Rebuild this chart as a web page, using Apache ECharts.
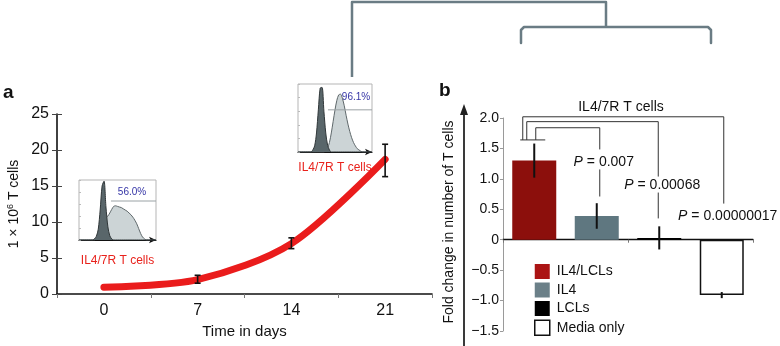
<!DOCTYPE html>
<html>
<head>
<meta charset="utf-8">
<script src="https://cdn.jsdelivr.net/npm/echarts@6/dist/echarts.min.js"></script>
<style>
  html, body { margin: 0; padding: 0; background: #fff; }
  #chart { width: 780px; height: 346px; }
</style>
</head>
<body>
<div id="chart"></div>
<script>
// ---- Panel a: T cell expansion over time ----
const days = ['0', '7', '14', '21'];
const cellCounts = [0.95, 2.0, 7.0, 18.7];
const cellLow = [0.95, 1.5, 6.3, 16.3];
const cellHigh = [0.95, 2.6, 7.8, 20.8];

// Flow histograms (day 0 and day 21), 41 bins each, percent of peak
const hist1Neg = [0,0,0,0,0,0,0,0,2,6,18,50,90,98,55,22,7,2,0,0,0,0,0,0,0,0,0,0,0,0,0,0,0,0,0,0,0,0,0,0,0];
const hist1Pos = [0,0,0,0,0,0,0,0,0,3,10,20,28,33,37,40,45,51,56,57,56,55,54,52,50,48,45,42,38,33,27,19,11,5,2,0,0,0,0,0,0];
const hist2Neg = [0,0,0,0,0,0,0,0,3,9,28,62,94,95,60,28,10,3,0,0,0,0,0,0,0,0,0,0,0,0,0,0,0,0,0,0,0,0,0,0,0];
const hist2Pos = [0,0,0,0,0,0,0,0,0,0,0,0,0,0,0,2,6,14,28,45,62,76,84,85,79,68,54,41,30,21,14,9,5,3,1,0,0,0,0,0,0];
const hist1Gate = { from: 16.6, level: 65, text: '56.0%' };
const hist2Gate = { from: 16.2, level: 62, text: '96.1%' };

// ---- Panel b: fold change by culture condition ----
const groups = ['IL4/LCLs', 'IL4', 'LCLs', 'Media only'];
const foldChange = [1.3, 0.39, 0.03, -0.91];
const foldErr = [0.28, 0.21, 0.19, 0.05];
const compareTargets = [1, 2, 3];
const pValues = ['0.007', '0.00068', '0.00000017'];

const FONT = "'Liberation Sans', Arial, Helvetica, sans-serif";
const barColors = ['#8c0f0c', '#5f7780', '#000000', '#ffffff'];
const legendColors = ['#ab1414', '#6b8088', '#000000', '#ffffff'];

const chart = echarts.init(document.getElementById('chart'), null, { renderer: 'canvas' });

const binIdx = hist1Neg.map((_, i) => i);
const toPairs = arr => arr.map((v, i) => [binIdx[i], v]);

function histSeries(xi, yi, neg, pos, gate) {
  return [
    {
      type: 'line', xAxisIndex: xi, yAxisIndex: yi, data: toPairs(pos),
      smooth: 0.3, symbol: 'none', silent: true, z: 2,
      lineStyle: { color: '#5f686b', width: 1 },
      areaStyle: { color: '#ccd4d6', opacity: 1 }
    },
    {
      type: 'line', xAxisIndex: xi, yAxisIndex: yi, data: toPairs(neg),
      smooth: 0.3, symbol: 'none', silent: true, z: 3,
      lineStyle: { color: '#2f3638', width: 1 },
      areaStyle: { color: '#59666a', opacity: 1 }
    },
    {
      type: 'line', xAxisIndex: xi, yAxisIndex: yi,
      data: [[gate.from, gate.level], [40, gate.level]],
      symbol: 'none', silent: true, z: 4,
      lineStyle: { color: '#9aa2a5', width: 1 }
    }
  ];
}

const bracketStyle = { stroke: '#333', lineWidth: 1, fill: null };

const option = {
  animation: false,
  backgroundColor: '#ffffff',
  textStyle: { fontFamily: FONT },
  grid: [
    { left: 57, top: 114, width: 375, height: 180 },
    { left: 503, top: 118, width: 250, height: 213 },
    { left: 79, top: 180, width: 77, height: 60, show: true, borderColor: '#b5b5b5', borderWidth: 1 },
    { left: 298, top: 84, width: 74, height: 68, show: true, borderColor: '#b5b5b5', borderWidth: 1 }
  ],
  xAxis: [
    {
      gridIndex: 0, type: 'category', data: days, boundaryGap: true,
      axisLine: { lineStyle: { color: '#111', width: 1.6 } },
      axisTick: { show: true, length: 4, lineStyle: { color: '#777' } },
      axisLabel: { color: '#111', fontSize: 16, margin: 9, fontFamily: FONT },
      name: 'Time in days', nameLocation: 'middle', nameGap: 28,
      nameTextStyle: { color: '#111', fontSize: 15, fontFamily: FONT }
    },
    {
      gridIndex: 1, type: 'category', data: groups, boundaryGap: true,
      axisLine: { onZero: true, lineStyle: { color: '#111', width: 1.4 } },
      axisTick: { show: true, length: 3, lineStyle: { color: '#777' } },
      axisLabel: { show: false }
    },
    {
      gridIndex: 2, type: 'value', min: 0, max: 40,
      axisLine: { show: true, symbol: ['none', 'arrow'], symbolSize: [5, 7], lineStyle: { color: '#111', width: 1.2 } },
      axisTick: { show: false }, axisLabel: { show: false }, splitLine: { show: false },
      name: 'IL4/7R T cells', nameLocation: 'middle', nameGap: 15,
      nameTextStyle: { color: '#e8221c', fontSize: 12, fontFamily: FONT }
    },
    {
      gridIndex: 3, type: 'value', min: 0, max: 40,
      axisLine: { show: true, symbol: ['none', 'arrow'], symbolSize: [5, 7], lineStyle: { color: '#111', width: 1.2 } },
      axisTick: { show: false }, axisLabel: { show: false }, splitLine: { show: false },
      name: 'IL4/7R T cells', nameLocation: 'middle', nameGap: 10,
      nameTextStyle: { color: '#e8221c', fontSize: 12, fontFamily: FONT }
    }
  ],
  yAxis: [
    {
      gridIndex: 0, type: 'value', min: 0, max: 25, interval: 5,
      axisLine: { show: true, lineStyle: { color: '#111', width: 1.6 } },
      axisTick: { show: true, length: 5, lineStyle: { color: '#444' } },
      axisLabel: { color: '#111', fontSize: 16, margin: 8, fontFamily: FONT },
      splitLine: { show: false }
    },
    {
      gridIndex: 0, type: 'value', min: 0, max: 25, interval: 5, position: 'left',
      axisLine: { show: false },
      axisTick: { show: true, inside: true, length: 5, lineStyle: { color: '#444' } },
      axisLabel: { show: false }, splitLine: { show: false }
    },
    {
      gridIndex: 1, type: 'value', min: -1.5, max: 2.0, interval: 0.5,
      axisLine: { show: true, onZero: false, lineStyle: { color: '#9a9a9a', width: 1 } },
      axisTick: { show: true, length: 3, lineStyle: { color: '#9a9a9a' } },
      axisLabel: {
        color: '#111', fontSize: 14, margin: 4, fontFamily: FONT,
        formatter: v => v === 0 ? '0' : v.toFixed(1).replace('-', '\u2212')
      },
      splitLine: { show: false }
    },
    {
      gridIndex: 2, type: 'value', min: 0, max: 100, splitNumber: 6,
      axisLine: { show: false },
      axisTick: { show: true, inside: true, length: 2, lineStyle: { color: '#bbb' } },
      axisLabel: { show: false }, splitLine: { show: false }
    },
    {
      gridIndex: 3, type: 'value', min: 0, max: 100, splitNumber: 6,
      axisLine: { show: false },
      axisTick: { show: true, inside: true, length: 2, lineStyle: { color: '#bbb' } },
      axisLabel: { show: false }, splitLine: { show: false }
    }
  ],
  legend: {
    orient: 'vertical', left: 529, top: 259,
    itemWidth: 15, itemHeight: 15, itemGap: 3.5,
    selectedMode: false,
    textStyle: { color: '#111', fontSize: 14, fontFamily: FONT, padding: [0, 0, 0, 2] },
    data: groups.map((g, i) => ({
      name: g, icon: 'rect',
      itemStyle: i === 3
        ? { color: '#fff', borderColor: '#111', borderWidth: 1.5 }
        : { color: legendColors[i], borderWidth: 0 }
    }))
  },
  graphic: [
    // panel letters
    { type: 'text', left: 3, top: 83, style: { text: 'a', font: `bold 19px ${FONT}`, fill: '#111' } },
    { type: 'text', left: 439, top: 81, style: { text: 'b', font: `bold 19px ${FONT}`, fill: '#111' } },
    // panel a y-axis title
    {
      type: 'text', x: 14, y: 204, rotation: Math.PI / 2,
      style: {
        text: '1 \u00d7 10{sup|6} T cells', align: 'center', verticalAlign: 'middle',
        fontSize: 14, fontFamily: FONT, fill: '#111', lineHeight: 16,
        rich: { sup: { fontSize: 9, verticalAlign: 'top', lineHeight: 16, fontFamily: FONT, fill: '#111' } }
      }
    },
    // panel b y-axis title and arrow
    {
      type: 'text', x: 449, y: 222, rotation: Math.PI / 2,
      style: { text: 'Fold change in number of T cells', align: 'center', verticalAlign: 'middle', fontSize: 14, fontFamily: FONT, fill: '#111' }
    },
    { type: 'line', shape: { x1: 464, y1: 113, x2: 464, y2: 346 }, style: { stroke: '#3a3a3a', lineWidth: 2 } },
    { type: 'polygon', shape: { points: [[464, 104], [460, 115], [468, 115]] }, style: { fill: '#222' } },
    // panel b title
    { type: 'text', x: 621, y: 107, style: { text: 'IL4/7R T cells', align: 'center', verticalAlign: 'middle', fontSize: 14, fontFamily: FONT, fill: '#111' } },
    // gated percentages in the flow insets
    { type: 'text', x: 132, y: 192, style: { text: hist1Gate.text, align: 'center', verticalAlign: 'middle', fontSize: 10, fontFamily: FONT, fill: '#3434a6' } },
    { type: 'text', x: 356, y: 97, style: { text: hist2Gate.text, align: 'center', verticalAlign: 'middle', fontSize: 10, fontFamily: FONT, fill: '#3434a6' } },
    // figure connectors along the top
    {
      type: 'polyline', shape: { points: [[352, 77], [352, 2], [606, 2], [606, 27]] },
      style: { stroke: '#6a7c84', lineWidth: 2.5, fill: null, lineJoin: 'round' }
    },
    {
      type: 'polyline', shape: { points: [[521, 43], [521, 30], [524, 27], [708, 27], [711, 30], [711, 43]] },
      style: { stroke: '#6a7c84', lineWidth: 2.5, fill: null, lineJoin: 'round', lineCap: 'round' }
    }
  ],
  series: [
    // panel a growth curve
    {
      type: 'line', xAxisIndex: 0, yAxisIndex: 0, data: cellCounts,
      smooth: 0.3, symbol: 'none', z: 3,
      lineStyle: { color: '#ea1c1c', width: 7, cap: 'round' }
    },
    {
      type: 'custom', xAxisIndex: 0, yAxisIndex: 0, z: 4,
      data: days.map((d, i) => [i, cellLow[i], cellHigh[i]]),
      encode: { x: 0, y: [1, 2] },
      renderItem: (params, api) => {
        const lo = api.coord([api.value(0), api.value(1)]);
        const hi = api.coord([api.value(0), api.value(2)]);
        if (Math.abs(hi[1] - lo[1]) < 1) return null;
        const x = lo[0], w = 3;
        const st = { stroke: '#111', lineWidth: 1.6 };
        return {
          type: 'group', children: [
            { type: 'line', shape: { x1: x, y1: hi[1], x2: x, y2: lo[1] }, style: st },
            { type: 'line', shape: { x1: x - w, y1: hi[1], x2: x + w, y2: hi[1] }, style: st },
            { type: 'line', shape: { x1: x - w, y1: lo[1], x2: x + w, y2: lo[1] }, style: st }
          ]
        };
      }
    },
    // flow insets
    ...histSeries(2, 3, hist1Neg, hist1Pos, hist1Gate),
    ...histSeries(3, 4, hist2Neg, hist2Pos, hist2Gate),
    // panel b bars, one series per condition
    ...groups.map((g, gi) => ({
      name: g, type: 'bar', xAxisIndex: 1, yAxisIndex: 2,
      barWidth: 44, barGap: '-100%',
      data: foldChange.map((v, i) => (i === gi ? v : '-')),
      itemStyle: gi === 3
        ? { color: '#ffffff', borderColor: '#111', borderWidth: 1.5 }
        : { color: barColors[gi] }
    })),
    // panel b error bars
    {
      type: 'custom', xAxisIndex: 1, yAxisIndex: 2, z: 5,
      data: groups.map((g, i) => [i, foldChange[i] - foldErr[i], foldChange[i] + foldErr[i]]),
      encode: { x: 0, y: [1, 2] },
      renderItem: (params, api) => {
        const lo = api.coord([api.value(0), api.value(1)]);
        const hi = api.coord([api.value(0), api.value(2)]);
        return { type: 'line', shape: { x1: lo[0], y1: hi[1], x2: lo[0], y2: lo[1] }, style: { stroke: '#111', lineWidth: 2 } };
      }
    },
    // panel b significance brackets
    {
      type: 'custom', xAxisIndex: 1, yAxisIndex: 2, z: 6, silent: true,
      data: [[0, 0]],
      renderItem: (params, api) => {
        const cx = i => api.coord([i, 0])[0];
        const cy = v => api.coord([0, v])[1];
        const baseY = cy(1.64);
        const x0 = cx(0);
        const topLevels = [1.84, 1.94, 2.02];
        const startOff = [1.5, -7.5, -11.5];
        const endOff = [3, -1, 2];
        const labelLevels = [1.27, 0.89, 0.38];
        const lowerEnds = [0.71, 0.35, null];
        const kids = [
          { type: 'line', shape: { x1: x0 - 14, y1: baseY, x2: x0 + 11, y2: baseY }, style: bracketStyle }
        ];
        compareTargets.forEach((t, k) => {
          const xs = x0 + startOff[k];
          const xe = cx(t) + endOff[k];
          const yt = cy(topLevels[k]);
          const yl = cy(labelLevels[k]);
          kids.push({
            type: 'polyline',
            shape: { points: [[xs, baseY], [xs, yt], [xe, yt], [xe, yl - (k === 1 ? 9 : 13)]] },
            style: bracketStyle
          });
          if (lowerEnds[k] !== null) {
            kids.push({ type: 'line', shape: { x1: xe, y1: yl + 7, x2: xe, y2: cy(lowerEnds[k]) }, style: bracketStyle });
          }
          kids.push({
            type: 'text',
            style: {
              x: xe + 4, y: yl, text: '{i|P} = ' + pValues[k],
              align: 'center', verticalAlign: 'middle',
              fontSize: 14, fontFamily: FONT, fill: '#111',
              rich: { i: { fontStyle: 'italic', fontSize: 14, fontFamily: FONT, fill: '#111' } }
            }
          });
        });
        return { type: 'group', children: kids };
      }
    }
  ]
};

chart.setOption(option);
</script>
</body>
</html>
